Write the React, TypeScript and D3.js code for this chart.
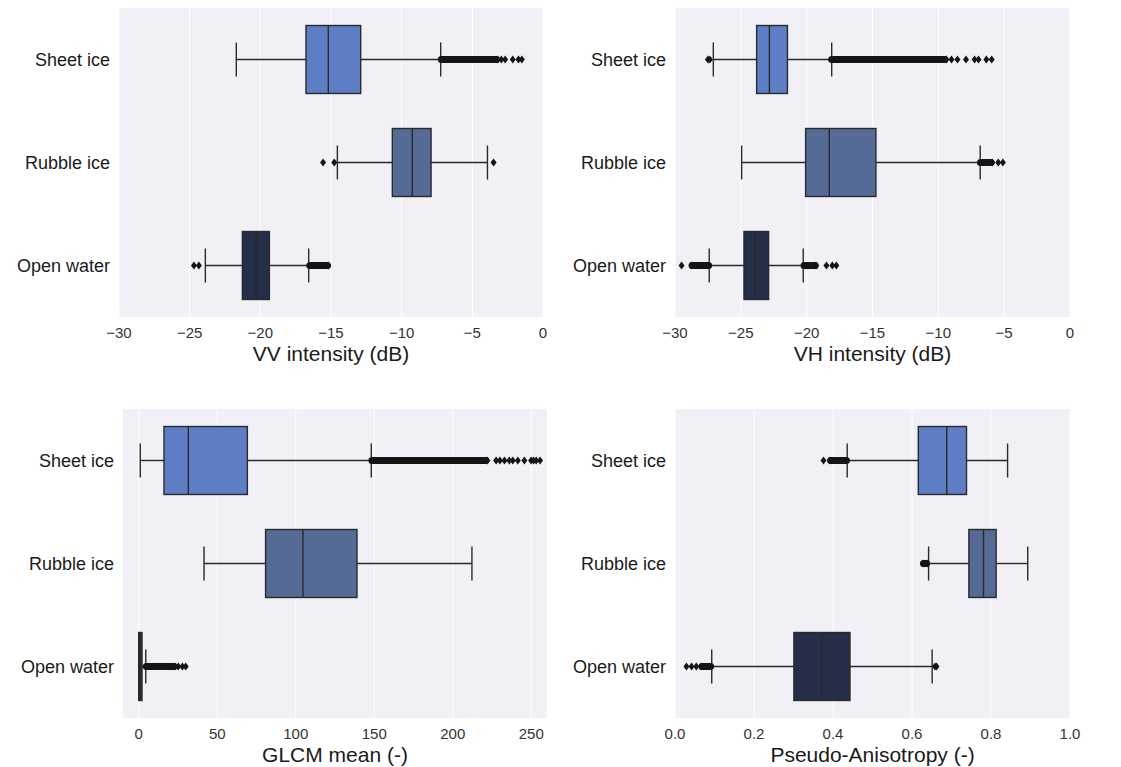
import React from 'react';
import * as d3 from 'd3';

const categories = ['Sheet ice', 'Rubble ice', 'Open water'];
const colors = ['#5d7ec4', '#566a96', '#252f49'];

// [low whisker, Q1, median, Q3, high whisker] per category
const vvBoxes = [
  [-21.7, -16.77, -15.19, -12.9, -7.24],
  [-14.55, -10.66, -9.25, -7.92, -3.93],
  [-23.89, -21.27, -20.3, -19.36, -16.58],
];
// ranges where outliers pile up into a solid run
const vvDense = [[[-7.2, -3.3]], [], [[-16.5, -15.25]]];
const vvOutliers = [
  [-3.2, -2.95, -2.68, -2.14, -1.74, -1.5],
  [-15.56, -14.77, -3.5],
  [-24.7, -24.35, -15.2],
];
const vvTicks = [-30, -25, -20, -15, -10, -5, 0];

const vhBoxes = [
  [-27.09, -23.8, -22.83, -21.46, -18.1],
  [-24.94, -20.08, -18.28, -14.74, -6.82],
  [-27.4, -24.76, -23.93, -22.89, -20.26],
];
const vhDense = [[[-18.1, -9.5]], [[-6.8, -6.0]], [[-28.7, -27.45], [-20.2, -19.35]]];
const vhOutliers = [
  [-27.5, -27.35, -9.4, -9.0, -8.55, -7.9, -7.25, -6.95, -6.35, -5.95],
  [-5.9, -5.45, -5.1],
  [-29.5, -28.75, -19.3, -18.5, -18.05, -17.75],
];
const vhTicks = [-30, -25, -20, -15, -10, -5, 0];

const glcmBoxes = [
  [1, 16.1, 31.6, 69.2, 148.1],
  [41.6, 80.8, 104.6, 139, 212.2],
  [0, 0, 1, 2.1, 4.5],
];
const glcmDense = [[[148.5, 221]], [], [[4.8, 22.5]]];
const glcmOutliers = [
  [222, 227.6, 230, 232.9, 236, 238.2, 241.4, 245.6, 249.9, 251.5, 253.1, 255.6],
  [],
  [23, 25.2, 27.8, 29.9],
];
const glcmTicks = [0, 50, 100, 150, 200, 250];

const paBoxes = [
  [0.436, 0.616, 0.688, 0.738, 0.842],
  [0.642, 0.744, 0.781, 0.813, 0.893],
  [0.093, 0.301, 0.371, 0.443, 0.651],
];
const paDense = [[[0.394, 0.434]], [[0.629, 0.637]], [[0.068, 0.09]]];
const paOutliers = [
  [0.376, 0.392],
  [0.628, 0.638],
  [0.029, 0.042, 0.054, 0.067, 0.658, 0.662],
];
const paTicks = [0, 0.2, 0.4, 0.6, 0.8, 1.0];

const FONT = '"Liberation Sans", Arial, sans-serif';
const LINE = '#2a2a2a';
const DOT = '#141414';

const panels = [
  { boxes: vvBoxes, dense: vvDense, outliers: vvOutliers, ticks: vvTicks, domain: [-30, 0], fmt: d3.format('d'), label: 'VV intensity (dB)', x0: 119, x1: 543, y0: 8, y1: 317, labelX: 110 },
  { boxes: vhBoxes, dense: vhDense, outliers: vhOutliers, ticks: vhTicks, domain: [-30, 0], fmt: d3.format('d'), label: 'VH intensity (dB)', x0: 675, x1: 1070, y0: 8, y1: 317, labelX: 666 },
  { boxes: glcmBoxes, dense: glcmDense, outliers: glcmOutliers, ticks: glcmTicks, domain: [-10, 260], fmt: d3.format('d'), label: 'GLCM mean (-)', x0: 123, x1: 547, y0: 409, y1: 718, labelX: 114 },
  { boxes: paBoxes, dense: paDense, outliers: paOutliers, ticks: paTicks, domain: [0, 1], fmt: d3.format('.1f'), label: 'Pseudo-Anisotropy (-)', x0: 675, x1: 1070, y0: 409, y1: 718, labelX: 666 },
];

const diamond = 'M0,-4L3,0L0,4L-3,0Z';

function Panel({ p }) {
  const x = d3.scaleLinear().domain(p.domain).range([p.x0, p.x1]);
  const y = d3.scaleBand().domain(categories).range([p.y0, p.y1]).paddingInner(0.34).paddingOuter(0.17);
  const bw = y.bandwidth();
  return (
    <g>
      <rect x={p.x0} y={p.y0} width={p.x1 - p.x0} height={p.y1 - p.y0} fill="#f0f0f6" />
      {p.ticks.map(t => (
        <g key={t}>
          <line x1={x(t)} x2={x(t)} y1={p.y0} y2={p.y1} stroke="#fff" strokeWidth={1} />
          <text x={x(t)} y={p.y1 + 21} textAnchor="middle" fontSize={15} fill="#333">{p.fmt(t)}</text>
        </g>
      ))}
      <text x={(p.x0 + p.x1) / 2} y={p.y1 + 44} textAnchor="middle" fontSize={21} fill="#1a1a1a">{p.label}</text>
      {categories.map((c, i) => {
        const [lo, q1, med, q3, hi] = p.boxes[i];
        const top = y(c);
        const cy = top + bw / 2;
        return (
          <g key={c}>
            <text x={p.labelX} y={cy + 6} textAnchor="end" fontSize={18} fill="#1a1a1a">{c}</text>
            <line x1={x(lo)} x2={x(q1)} y1={cy} y2={cy} stroke={LINE} strokeWidth={1.4} />
            <line x1={x(q3)} x2={x(hi)} y1={cy} y2={cy} stroke={LINE} strokeWidth={1.4} />
            <line x1={x(lo)} x2={x(lo)} y1={cy - bw / 4} y2={cy + bw / 4} stroke={LINE} strokeWidth={1.4} />
            <line x1={x(hi)} x2={x(hi)} y1={cy - bw / 4} y2={cy + bw / 4} stroke={LINE} strokeWidth={1.4} />
            <rect x={x(q1)} y={top} width={x(q3) - x(q1)} height={bw} fill={colors[i]} stroke={LINE} strokeWidth={1.4} />
            <line x1={x(med)} x2={x(med)} y1={top} y2={top + bw} stroke={LINE} strokeWidth={1.4} />
            {p.dense[i].map(([a, b], j) => (
              <line key={'d' + j} x1={x(a)} x2={x(b)} y1={cy} y2={cy} stroke={DOT} strokeWidth={7} strokeLinecap="round" />
            ))}
            {p.outliers[i].map((v, j) => (
              <path key={j} d={diamond} transform={`translate(${x(v)},${cy})`} fill={DOT} />
            ))}
          </g>
        );
      })}
    </g>
  );
}

export default function App() {
  return (
    <div style={{ position: 'absolute', left: 0, top: 0, background: '#fff' }}>
      <svg width={1121} height={767} style={{ display: 'block', fontFamily: FONT }}>
        <rect width={1121} height={767} fill="#fff" />
        {panels.map((p, i) => <Panel key={i} p={p} />)}
      </svg>
    </div>
  );
}
